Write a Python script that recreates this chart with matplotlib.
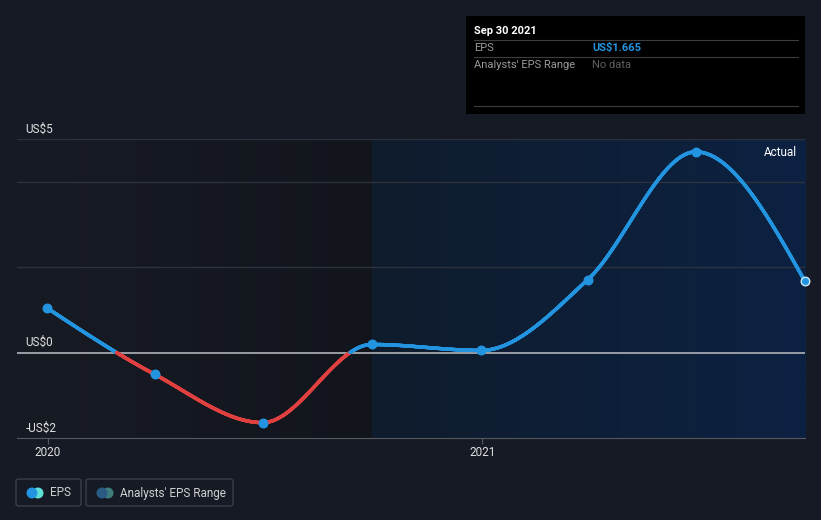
import numpy as np
import matplotlib.pyplot as plt
import matplotlib.dates as mdates
from matplotlib.collections import LineCollection
from matplotlib.patches import FancyBboxPatch, Rectangle, Ellipse
import datetime

plt.rcParams['font.family'] = ['Roboto', 'DejaVu Sans']

# data
dates = ['2019-12-31', '2020-03-31', '2020-06-30', '2020-09-30',
         '2020-12-31', '2021-03-31', '2021-06-30', '2021-09-30']
eps = [1.05, -0.51, -1.64, 0.19, 0.05, 1.71, 4.70, 1.665]
ytick_vals = [5, 0, -2]
ytick_labels = ['US$5', 'US$0', '-US$2']
grid_vals = [5, 4, 2]
xtick_labels = ['2020', '2021']

BG = '#151a24'
BLUE = '#2394df'
RED = '#e0403f'

x = mdates.date2num([datetime.date.fromisoformat(d) for d in dates])
y = np.array(eps)


def monotone(x, y, n=3000):
    # steffen style monotone cubic (like d3 curveMonotoneX)
    h = np.diff(x)
    s = np.diff(y) / h
    m = np.zeros(len(x))
    for i in range(1, len(x) - 1):
        p = (s[i-1] * h[i] + s[i] * h[i-1]) / (h[i-1] + h[i])
        m[i] = (np.sign(s[i-1]) + np.sign(s[i])) * min(abs(s[i-1]), abs(s[i]), 0.5 * abs(p))
    m[0] = (3 * s[0] - m[1]) / 2
    m[-1] = (3 * s[-1] - m[-2]) / 2
    xs = np.linspace(x[0], x[-1], n)
    idx = np.clip(np.searchsorted(x, xs) - 1, 0, len(x) - 2)
    t = (xs - x[idx]) / h[idx]
    h00 = 2*t**3 - 3*t**2 + 1
    h10 = t**3 - 2*t**2 + t
    h01 = -2*t**3 + 3*t**2
    h11 = t**3 - t**2
    ys = h00*y[idx] + h10*h[idx]*m[idx] + h01*y[idx+1] + h11*h[idx]*m[idx+1]
    return xs, ys


fig = plt.figure(figsize=(8.21, 5.2), dpi=100)
fig.patch.set_facecolor(BG)
ax = fig.add_axes([17/821, 1 - 438/520, (805-17)/821, (438-139)/520])
ax.set_facecolor(BG)

x0 = mdates.date2num(datetime.date(2019, 12, 6))
x1 = x[-1]
ax.set_xlim(x0, x1)
ax.set_ylim(-2, 5)

# background gradients
gl = np.linspace(0, 1, 256)[np.newaxis, :]
c_a, c_b = np.array([0x17, 0x1b, 0x24]) / 255, np.array([0x12, 0x15, 0x1c]) / 255
img = c_a + (c_b - c_a) * gl[..., np.newaxis]
ax.imshow(img, extent=(x0, x[3], -2, 5), aspect='auto', zorder=0)
c_a, c_b = np.array([0x10, 0x1c, 0x2d]) / 255, np.array([0x0c, 0x22, 0x42]) / 255
img = c_a + (c_b - c_a) * gl[..., np.newaxis]
ax.imshow(img, extent=(x[3], x1, -2, 5), aspect='auto', zorder=0)

for g in grid_vals:
    ax.axhline(g, color='#2c323d', lw=1, zorder=1)
ax.axhline(0, color='#b0b3b8', lw=1.2, zorder=2)

# curve coloured by sign
xs, ys = monotone(x, y)
pts = np.column_stack([xs, ys]).reshape(-1, 1, 2)
segs = np.concatenate([pts[:-1], pts[1:]], axis=1)
mid = (ys[:-1] + ys[1:]) / 2
cols = [RED if v < 0 else BLUE for v in mid]
lc = LineCollection(segs, colors=cols, linewidths=2.5, capstyle='round', zorder=3)
ax.add_collection(lc)
ax.scatter(x[:-1], y[:-1], s=38, color=BLUE, zorder=4, clip_on=False)
ax.scatter(x[-1:], y[-1:], s=38, color=BLUE, edgecolor='#cfe8f5', linewidth=1, zorder=4, clip_on=False)

for sp in ['top', 'right', 'left']:
    ax.spines[sp].set_visible(False)
ax.spines['bottom'].set_color('#55595f')
ax.set_yticks([])
ax.set_xticks(mdates.date2num([datetime.date(2020, 1, 1), datetime.date(2021, 1, 1)]))
ax.set_xticklabels(xtick_labels)
ax.tick_params(axis='x', colors='#55595f', labelcolor='#e0e0e0', labelsize=8.5, length=4, pad=2)

for v, lab in zip(ytick_vals, ytick_labels):
    ax.annotate(lab, (x0, v), xytext=(6, 2.5), textcoords='offset points', color='#e0e0e0',
                fontsize=8.5, va='bottom', ha='left')

ax.text(0.99, 0.955, 'Actual', transform=ax.transAxes, color='white', fontsize=8.5,
        ha='right', va='center')

# tooltip box
fig.patches.append(Rectangle((466/821, 1 - 114/520), 339/821, 98/520, transform=fig.transFigure,
                             facecolor='black', edgecolor='none'))
for yy in [40, 57, 106]:
    fig.add_artist(plt.Line2D([474/821, 798/821], [1 - yy/520] * 2, color='#3d3d3d', lw=0.8))
fig.text(474/821, 1 - 31/520, 'Sep 30 2021', color='white', fontsize=8, fontweight='bold', va='center')
fig.text(474/821, 1 - 48/520, 'EPS', color='#9a9a9a', fontsize=8, va='center')
fig.text(592/821, 1 - 48/520, 'US$1.665', color=BLUE, fontsize=8, fontweight='bold', va='center')
fig.text(474/821, 1 - 65/520, "Analysts' EPS Range", color='#9a9a9a', fontsize=8, va='center')
fig.text(592/821, 1 - 65/520, 'No data', color='#5f5f5f', fontsize=8, va='center')

# legend
for bx, bw, c1, c2, lab in [(16, 65, BLUE, '#5fe0d6', 'EPS'),
                            (86, 147, '#2a5b82', '#3f7d7d', "Analysts' EPS Range")]:
    fig.patches.append(FancyBboxPatch((bx/821, 1 - 506/520), bw/821, 27/520,
                                      boxstyle='round,pad=0,rounding_size=0.004',
                                      transform=fig.transFigure, facecolor='none',
                                      edgecolor='#3a3f49', lw=1))
    cy = 1 - 493/520
    fig.patches.append(Ellipse(((bx + 22)/821, cy), 11/821, 11/520, transform=fig.transFigure,
                               facecolor=c2, edgecolor='none'))
    fig.patches.append(Ellipse(((bx + 16)/821, cy), 11/821, 11/520, transform=fig.transFigure,
                               facecolor=c1, edgecolor='none'))
    fig.text((bx + 34)/821, cy, lab, color='#d0d0d0', fontsize=8.5, va='center')

plt.savefig('out.png', dpi=100, facecolor=BG)
